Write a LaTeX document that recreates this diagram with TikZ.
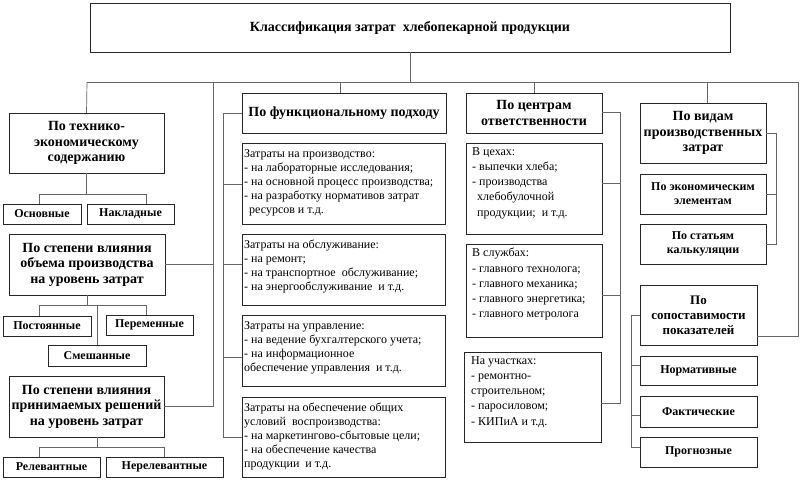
\documentclass[tikz,border=0pt]{standalone}
\usepackage{fontspec}
\setmainfont{Liberation Serif}
\newcommand\mybox[7][]{\pgfmathsetmacro\mbw{#5-#3}\pgfmathsetmacro\mbh{#6-#4}%
  \node[bx,minimum width=\mbw pt,minimum height=\mbh pt,#1] (#2) at ({(#3+#5)/2},{(#4+#6)/2}) {#7};}
\tikzset{
  bx/.style={draw=black!85, line width=0.9pt, inner sep=0pt, outer sep=0pt, align=center,
    font=\bfseries\fontsize{14}{15.5}\selectfont},
  lf/.style={font=\bfseries\fontsize{12}{14}\selectfont},
  mf/.style={font=\bfseries\fontsize{13}{15}\selectfont},
  bt/.style={anchor=north west, inner sep=0pt, align=left, font=\fontsize{12}{14}\selectfont},
  ct/.style={anchor=north west, inner sep=0pt, align=left, font=\fontsize{12}{15.3}\selectfont},
  conn/.style={draw=black!60, line width=0.7pt},
}
\begin{document}
\begin{tikzpicture}[x=1pt,y=-1pt]
\useasboundingbox (0,0) rectangle (800,499);
% title
\mybox{title}{90}{3}{730}{52}{Классификация затрат\ \ хлебопекарной продукции}
% left column
\mybox{tech}{9}{113}{164}{173}{По технико-\\экономическому\\содержанию}
\mybox[lf]{osn}{3}{204}{81}{224}{Основные}
\mybox[lf]{nakl}{87}{204}{174}{224}{Накладные}
\mybox{vol}{9}{234}{165}{295}{По степени влияния\\объема производства\\на уровень затрат}
\mybox[lf]{post}{3}{316}{91}{336}{Постоянные}
\mybox[lf]{per}{106}{315}{193}{335}{Переменные}
\mybox[lf]{smesh}{48}{345}{146}{366}{Смешанные}
\mybox{resh}{9}{376}{164}{437}{По степени влияния\\принимаемых решений\\на уровень затрат}
\mybox[lf]{rel}{3}{457}{100}{477}{Релевантные}
\mybox[lf]{nerel}{106}{457}{223}{477}{Нерелевантные}
% functional column
\mybox{func}{242}{93}{446}{133}{По функциональному подходу}
\mybox{f1}{242}{143}{445}{224}{}
\mybox{f2}{242}{234}{445}{305}{}
\mybox{f3}{242}{315}{445}{386}{}
\mybox{f4}{242}{397}{445}{477}{}
\node[bt] (f1t) at ([xshift=2pt,yshift=-6pt]f1.north west) {Затраты на производство:\\- на лабораторные исследования;\\- на основной процесс производства;\\- на разработку нормативов затрат\\\hspace*{5pt}ресурсов и т.д.};
\node[bt] (f2t) at ([xshift=2pt,yshift=-6pt]f2.north west) {Затраты на обслуживание:\\- на ремонт;\\- на транспортное\ \ обслуживание;\\- на энергообслуживание\ \ и т.д.};
\node[bt] (f3t) at ([xshift=2pt,yshift=-6pt]f3.north west) {Затраты на управление:\\- на ведение бухгалтерского учета;\\- на информационное\\обеспечение управления\ \ и т.д.};
\node[bt] (f4t) at ([xshift=2pt,yshift=-6pt]f4.north west) {Затраты на обеспечение общих\\условий\ \ воспроизводства:\\- на маркетингово-сбытовые цели;\\- на обеспечение качества\\продукции\ \ и т.д.};
% centres column
\mybox{cent}{466}{93}{602}{133}{По центрам\\ответственности}
\mybox{c1}{466}{143}{602}{234}{}
\mybox{c2}{466}{244}{602}{337}{}
\mybox{c3}{464}{352}{601}{442}{}
\node[ct] (c1t) at ([xshift=6pt,yshift=-4pt]c1.north west) {В цехах:\\- выпечки хлеба;\\- производства\\\hspace*{5pt}хлебобулочной\\\hspace*{5pt}продукции;\ \ и т.д.};
\node[ct] (c2t) at ([xshift=6pt,yshift=-4pt]c2.north west) {В службах:\\- главного\ технолога;\\- главного\ механика;\\- главного\ энергетика;\\- главного\ метролога};
\node[ct] (c3t) at ([xshift=7pt,yshift=-4pt]c3.north west) {На участках:\\- ремонтно-\\строительном;\\- паросиловом;\\- КИПиА и т.д.};
% right column
\mybox{vid}{640}{103}{766}{163}{По видам\\производственных\\затрат}
\mybox[lf]{ekon}{640}{174}{766}{214}{По экономическим\\элементам}
\mybox[lf]{stat}{640}{224}{766}{264}{По статьям\\калькуляции}
\mybox[mf]{sop}{640}{285}{757}{345}{По\\сопоставимости\\показателей}
\mybox[lf]{norm}{640}{356}{757}{385}{Нормативные}
\mybox[lf]{fakt}{640}{396}{757}{427}{Фактические}
\mybox[lf]{prog}{640}{437}{757}{467}{Прогнозные}
% connectors
\coordinate (busL) at (87,82);
\coordinate (busR) at (798,82);
\coordinate (v213) at (213,82);
\coordinate (fv) at (223,0);
\coordinate (cv) at (620,0);
\coordinate (bv) at (776,0);
\coordinate (sv) at (631,0);
\draw[conn] (title.south) -- (title.south|-busL);
\draw[conn] (busL) -- (busR);
\draw[conn] (busL) -- (tech.north);
\draw[conn] (v213) |- (resh.east);
\draw[conn] (vol.east) -- (vol.east-|v213);
\draw[conn] ([xshift=-4pt]func.north|-busL) -- ([xshift=-4pt]func.north);
\draw[conn] (cent.north|-busL) -- (cent.north);
\draw[conn] ([xshift=4pt]vid.north|-busL) -- ([xshift=4pt]vid.north);
\draw[conn] (busR) |- ([yshift=-21pt]sop.east);
% left subtrees
\coordinate (tbL) at (39,194); \coordinate (tbR) at (146,194);
\draw[conn] (tech.south) -- (tech.south|-tbL);
\draw[conn] (tbL) -- (tbR);
\draw[conn] (tbL) -- (tbL|-osn.north);
\draw[conn] (tbR) -- (tbR|-nakl.north);
\coordinate (vbL) at (39,305); \coordinate (vbR) at (146,305); \coordinate (vbM) at (97,305);
\draw[conn] (vol.south) -- (vol.south|-vbL);
\draw[conn] (vbL) -- (vbR);
\draw[conn] (vbL) -- (vbL|-post.north);
\draw[conn] (vbR) -- (vbR|-per.north);
\draw[conn] (vbM) -- (vbM|-smesh.north);
\coordinate (rbL) at (39,447); \coordinate (rbR) at (164,447); \coordinate (rbM) at (97,447);
\draw[conn] (rbM|-resh.south) -- (rbM);
\draw[conn] (rbL) -- (rbR);
\draw[conn] (rbL) -- (rbL|-rel.north);
\draw[conn] (rbR) -- (rbR|-nerel.north);
% functional bracket
\draw[conn] (func.west) -- (func.west-|fv) -- (f4.west-|fv) -- (f4.west);
\draw[conn] ([yshift=-0.5pt]f1.west-|fv) -- ([yshift=-0.5pt]f1.west);
\draw[conn] (vol.east-|fv) -- (vol.east-|f2.west);
\draw[conn] ([yshift=-6.5pt]f3.west-|fv) -- ([yshift=-6.5pt]f3.west);
% centres bracket
\draw[conn] ([yshift=1pt]cent.east) -- ([yshift=1pt]cent.east-|cv) -- ([yshift=-6pt]c3.east-|cv) -- ([yshift=-6pt]c3.east);
\draw[conn] ([yshift=5.5pt]c1.east) -- ([yshift=5.5pt]c1.east-|cv);
\draw[conn] ([yshift=-4.5pt]c2.east) -- ([yshift=-4.5pt]c2.east-|cv);
% kinds bracket
\draw[conn] (vid.east) -- (vid.east-|bv) -- (stat.east-|bv) -- (stat.east);
\draw[conn] (ekon.east) -- (ekon.east-|bv);
% comparability bracket
\draw[conn] (sop.west) -- (sop.west-|sv) -- ([yshift=5pt]prog.west-|sv) -- ([yshift=5pt]prog.west);
\draw[conn] ([yshift=5pt]norm.west-|sv) -- ([yshift=5pt]norm.west);
\draw[conn] ([yshift=-4pt]fakt.west-|sv) -- ([yshift=-4pt]fakt.west);
\end{tikzpicture}
\end{document}
